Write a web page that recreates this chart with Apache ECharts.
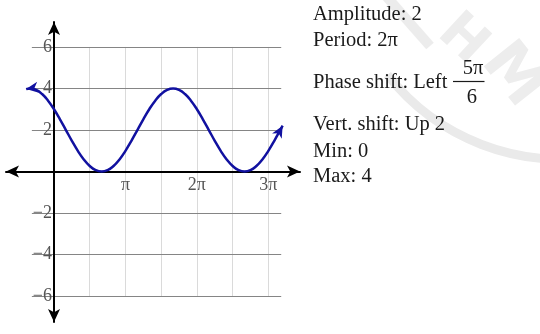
<!DOCTYPE html>
<html>
<head>
<meta charset="utf-8">
<script src="https://cdn.jsdelivr.net/npm/echarts@6/dist/echarts.min.js"></script>
<style>
html, body { margin: 0; padding: 0; background: #fff; }
#chart { width: 540px; height: 334px; }
</style>
</head>
<body>
<div id="chart"></div>
<script>
// Curve samples; x is measured in multiples of π
const curveX = [-0.39, -0.3333, -0.25, -0.1667, -0.0833, 0, 0.0833, 0.1667, 0.25, 0.3333, 0.4167, 0.5, 0.5833,
  0.6667, 0.75, 0.8333, 0.9167, 1.0, 1.0833, 1.1667, 1.25, 1.3333, 1.4167, 1.5, 1.5833,
  1.6667, 1.75, 1.8333, 1.9167, 2.0, 2.0833, 2.1667, 2.25, 2.3333, 2.4167, 2.5, 2.5833,
  2.6667, 2.75, 2.8333, 2.9167, 3.0, 3.0833, 3.1667, 3.2];
const curveY = [3.97, 4.0, 3.932, 3.732, 3.414, 3.0, 2.518, 2.0, 1.482, 1.0, 0.586, 0.268, 0.068,
  0, 0.068, 0.268, 0.586, 1.0, 1.482, 2.0, 2.518, 3.0, 3.414, 3.732, 3.932,
  4.0, 3.932, 3.732, 3.414, 3.0, 2.518, 2.0, 1.482, 1.0, 0.586, 0.268, 0.068,
  0, 0.068, 0.268, 0.586, 1.0, 1.482, 2.0, 2.21];

const xTicks = [1, 2, 3];
const xTickLabels = ['π', '2π', '3π'];
const yTicks = [-6, -4, -2, 2, 4, 6];

// Graph paper lines
const hGrid = [-6, -4, -2, 2, 4, 6];
const vGrid = [0.5, 1, 1.5, 2, 2.5, 3];
const gridSpanX = [-0.31, 3.18];
const gridSpanY = [-6, 6];

// Axis extents (arrow tips)
const xRange = [-0.672, 3.443];
const yRange = [-7.24, 7.2];

const infoLines = ['Amplitude: 2', 'Period: 2π', 'Phase shift: Left', 'Vert. shift: Up 2', 'Min: 0', 'Max: 4'];
const fracTop = '5π';
const fracBottom = '6';

const SERIF = '"Liberation Serif", "Times New Roman", serif';
const CURVE = '#1111a0';

const chart = echarts.init(document.getElementById('chart'), null, { renderer: 'canvas' });

const curveData = curveX.map((x, i) => [x, curveY[i]]);
const hLineData = hGrid.map(v => ({ coords: [[gridSpanX[0], v], [gridSpanX[1], v]] }));
const vLineData = vGrid.map(v => ({ coords: [[v, gridSpanY[0]], [v, gridSpanY[1]]] }));

// each arrowhead: tip point followed by the neighbouring sample that sets its direction
const n = curveData.length;
const arrowData = [
  curveData[0].concat(curveData[1]),
  curveData[n - 1].concat(curveData[n - 2])
];

// plot box
const box = { left: 6, right: 240, top: 22, bottom: 12 };
const boxW = 540 - box.left - box.right;
const boxH = 334 - box.top - box.bottom;
// shift each axis inward so it crosses the other at zero
const yAxisShift = boxW * (0 - xRange[0]) / (xRange[1] - xRange[0]);
const xAxisShift = boxH * (0 - yRange[0]) / (yRange[1] - yRange[0]);

const textStyle = { font: '20.5px ' + SERIF, fill: '#1a1a1a', textVerticalAlign: 'middle' };
const infoY = [15, 41, 82.5, 125, 152, 177];

const graphics = [
  // faint stamp in the upper right corner
  { type: 'arc', z: -10, silent: true,
    shape: { cx: 560, cy: -60, r: 219, startAngle: 80 * Math.PI / 180, endAngle: 142 * Math.PI / 180 },
    style: { stroke: '#eaeaea', lineWidth: 9, fill: null } },
  { type: 'line', z: -10, silent: true,
    shape: { x1: 386, y1: -4, x2: 430, y2: 46 },
    style: { stroke: '#ececec', lineWidth: 10 } },
  { type: 'text', z: -10, silent: true, x: 462, y: 40, rotation: -0.75,
    style: { text: 'H', font: 'bold 54px "DejaVu Sans", sans-serif', fill: '#ededed', textAlign: 'center', textVerticalAlign: 'middle' } },
  { type: 'text', z: -10, silent: true, x: 512, y: 76, rotation: -0.9,
    style: { text: 'M', font: 'bold 62px "DejaVu Sans", sans-serif', fill: '#ededed', textAlign: 'center', textVerticalAlign: 'middle' } }
];
infoLines.forEach((t, i) => {
  graphics.push({ type: 'text', z: 10, x: 313, y: infoY[i], style: Object.assign({ text: t, textAlign: 'left' }, textStyle) });
});
graphics.push({ type: 'text', z: 10, x: 473, y: 68.5, style: Object.assign({ text: fracTop, textAlign: 'center' }, textStyle) });
graphics.push({ type: 'line', z: 10, shape: { x1: 453, y1: 81.5, x2: 484.5, y2: 81.5 }, style: { stroke: '#1a1a1a', lineWidth: 1.2 } });
graphics.push({ type: 'text', z: 10, x: 471.8, y: 98, style: Object.assign({ text: fracBottom, textAlign: 'center' }, textStyle) });

const axisLineStyle = { color: '#000', width: 2 };

// barbed arrowhead whose tip sits on the end sample
function renderArrow(params, api) {
  const p = api.coord([api.value(0), api.value(1)]);
  const q = api.coord([api.value(2), api.value(3)]);
  let ux = p[0] - q[0], uy = p[1] - q[1];
  const len = Math.hypot(ux, uy) || 1;
  ux /= len; uy /= len;
  const nx = -uy, ny = ux;
  const L = 12, W = 5.5, notch = 8.5;
  const pts = [
    [p[0], p[1]],
    [p[0] - L * ux + W * nx, p[1] - L * uy + W * ny],
    [p[0] - notch * ux, p[1] - notch * uy],
    [p[0] - L * ux - W * nx, p[1] - L * uy - W * ny]
  ];
  return { type: 'polygon', shape: { points: pts }, style: { fill: CURVE } };
}

const option = {
  animation: false,
  backgroundColor: '#fff',
  grid: Object.assign({ containLabel: false, outerBoundsMode: 'none' }, box),
  xAxis: {
    type: 'value', min: xRange[0], max: xRange[1], z: 5,
    position: 'bottom', offset: -xAxisShift,
    axisLine: { onZero: false, symbol: ['arrow', 'arrow'], symbolSize: [9, 13], lineStyle: axisLineStyle },
    axisTick: { show: false },
    splitLine: { show: false },
    axisLabel: {
      customValues: xTicks,
      formatter: v => xTickLabels[xTicks.indexOf(Math.round(v))] || '',
      fontFamily: SERIF, fontSize: 18, color: '#555', margin: 5
    }
  },
  yAxis: {
    type: 'value', min: yRange[0], max: yRange[1], z: 5,
    position: 'left', offset: -yAxisShift,
    axisLine: { onZero: false, symbol: ['arrow', 'arrow'], symbolSize: [9, 13], lineStyle: axisLineStyle },
    axisTick: { show: false },
    splitLine: { show: false },
    axisLabel: {
      customValues: yTicks,
      formatter: v => String(v).replace('-', '\u2212'),
      fontFamily: SERIF, fontSize: 18, color: '#555', margin: 2, padding: [3, 0, 0, 0]
    }
  },
  graphic: { elements: graphics },
  series: [
    { type: 'lines', coordinateSystem: 'cartesian2d', z: 1, silent: true,
      data: vLineData, lineStyle: { color: '#dadada', width: 1, opacity: 1 } },
    { type: 'lines', coordinateSystem: 'cartesian2d', z: 2, silent: true,
      data: hLineData, lineStyle: { color: '#858585', width: 1.2, opacity: 1 } },
    { type: 'line', z: 6, data: curveData, smooth: true, showSymbol: false, silent: true,
      lineStyle: { color: CURVE, width: 2.5 } },
    { type: 'custom', z: 7, silent: true, renderItem: renderArrow, data: arrowData,
      encode: { x: [0, 2], y: [1, 3] } }
  ]
};
chart.setOption(option);
</script>
</body>
</html>
